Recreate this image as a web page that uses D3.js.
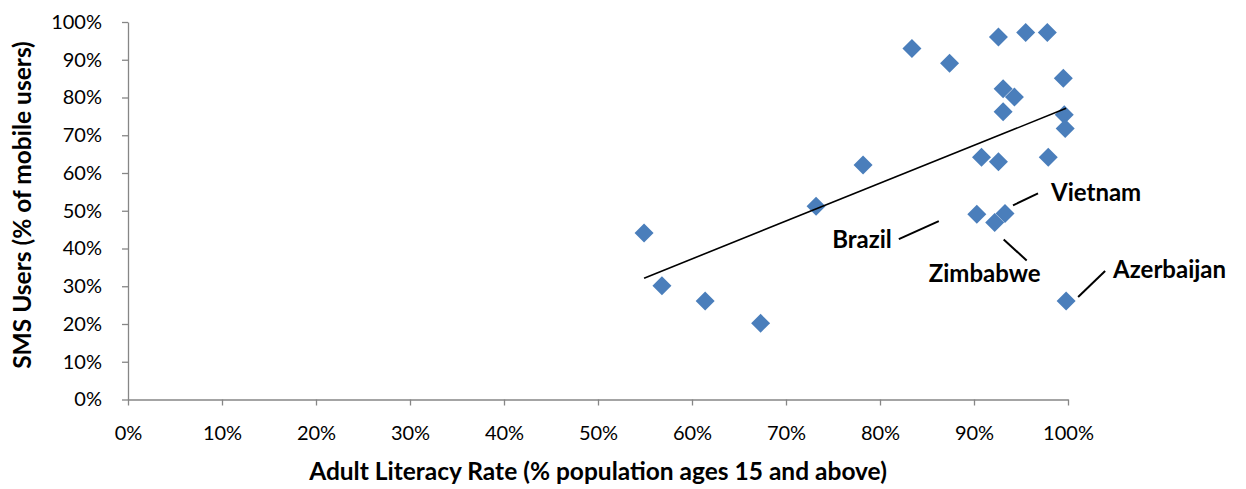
<!DOCTYPE html>
<html>
<head>
<meta charset="utf-8">
<script src="https://cdn.jsdelivr.net/npm/d3@7"></script>
<style>
  html, body { margin: 0; padding: 0; background: #ffffff; }
  svg { display: block; }
  text { font-family: Lato, "Open Sans", "Liberation Sans", sans-serif; fill: #000; }
</style>
</head>
<body>
<svg id="chart" width="1246" height="489"></svg>
<script>
// ---- Data (values as fractions) ----
const literacy = [0.834, 0.874, 0.926, 0.955, 0.978, 0.995, 0.931, 0.943, 0.931, 0.996, 0.997,
                  0.908, 0.926, 0.979, 0.903, 0.933, 0.922, 0.998, 0.549, 0.568, 0.614, 0.673, 0.732, 0.782];
const smsUsers = [0.930, 0.891, 0.960, 0.972, 0.972, 0.851, 0.823, 0.801, 0.762, 0.754, 0.718,
                  0.642, 0.630, 0.642, 0.491, 0.493, 0.469, 0.261, 0.441, 0.301, 0.261, 0.202, 0.512, 0.621];
const labelNames = ["Brazil", "Vietnam", "Zimbabwe", "Azerbaijan"];
const labelIndex = [14, 15, 16, 17];
const tickValues = [0, 0.1, 0.2, 0.3, 0.4, 0.5, 0.6, 0.7, 0.8, 0.9, 1.0];
const xTitle = "Adult Literacy Rate (% population ages 15 and above)";
const yTitle = "SMS Users (% of mobile users)";

// ---- Layout ----
const svg = d3.select("#chart");
const x = d3.scaleLinear().domain([0, 1]).range([128, 1068]);
const y = d3.scaleLinear().domain([0, 1]).range([399.5, 22]);
const axisColor = "#868686";
const fmt = d3.format(".0%");

// Y axis
const yAxis = svg.append("g").attr("transform", `translate(${x(0)},0)`)
  .call(d3.axisLeft(y).tickValues(tickValues).tickFormat(fmt).tickSizeInner(6).tickSizeOuter(0).tickPadding(20));
yAxis.select(".domain").attr("stroke", axisColor).attr("stroke-width", 1.3);
yAxis.selectAll(".tick line").attr("stroke", axisColor).attr("stroke-width", 1.3);
yAxis.selectAll(".tick text").attr("font-size", 20).attr("font-family", "Lato, sans-serif").attr("fill", "#000");

// X axis
const xAxis = svg.append("g").attr("transform", `translate(0,${y(0)})`)
  .call(d3.axisBottom(x).tickValues(tickValues).tickFormat(fmt).tickSizeInner(6).tickSizeOuter(0).tickPadding(20));
xAxis.select(".domain").attr("stroke", axisColor).attr("stroke-width", 1.3);
xAxis.selectAll(".tick line").attr("stroke", axisColor).attr("stroke-width", 1.3);
xAxis.selectAll(".tick text").attr("font-size", 20).attr("font-family", "Lato, sans-serif").attr("fill", "#000");

// Axis titles
svg.append("text")
  .attr("x", 598).attr("y", 480)
  .attr("text-anchor", "middle").attr("font-size", 24.5).attr("font-weight", "bold")
  .text(xTitle);
svg.append("text")
  .attr("transform", `translate(31,205) rotate(-90)`)
  .attr("text-anchor", "middle").attr("font-size", 24.5).attr("font-weight", "bold")
  .text(yTitle);

// Points
const pts = literacy.map((v, i) => ({ x: v, y: smsUsers[i] }));
const r = 9.5;
svg.append("g").selectAll("path").data(pts).join("path")
  .attr("d", d => { const cx = x(d.x), cy = y(d.y);
    return `M${cx},${cy - r}L${cx + r},${cy}L${cx},${cy + r}L${cx - r},${cy}Z`; })
  .attr("fill", "#4A7EBB");

// Linear trend line (least squares)
const mx = d3.mean(literacy), my = d3.mean(smsUsers);
const slope = d3.sum(literacy, (v, i) => (v - mx) * (smsUsers[i] - my)) / d3.sum(literacy, v => (v - mx) ** 2);
const icpt = my - slope * mx;
const [x0, x1] = d3.extent(literacy);
svg.append("line")
  .attr("x1", x(x0)).attr("y1", y(icpt + slope * x0))
  .attr("x2", x(x1)).attr("y2", y(icpt + slope * x1))
  .attr("stroke", "#000").attr("stroke-width", 1.6);

// Annotations (leader offsets in px from the point)
const annLayout = {
  "Brazil":     { l: [-78, 25, -38, 7],  t: [-85, 34], anchor: "end" },
  "Vietnam":    { l: [8, -8, 33, -20],   t: [46, -12], anchor: "start" },
  "Zimbabwe":   { l: [9, 17, 32, 38],    t: [-10, 60], anchor: "middle" },
  "Azerbaijan": { l: [12, -4, 39, -30],  t: [47, -23], anchor: "start" }
};
const ann = svg.append("g");
labelNames.forEach((name, k) => {
  const p = pts[labelIndex[k]];
  const cx = x(p.x), cy = y(p.y), L = annLayout[name];
  ann.append("line")
    .attr("x1", cx + L.l[0]).attr("y1", cy + L.l[1])
    .attr("x2", cx + L.l[2]).attr("y2", cy + L.l[3])
    .attr("stroke", "#000").attr("stroke-width", 2);
  ann.append("text")
    .attr("x", cx + L.t[0]).attr("y", cy + L.t[1])
    .attr("text-anchor", L.anchor).attr("font-size", 24).attr("font-weight", "bold")
    .text(name);
});
</script>
</body>
</html>
